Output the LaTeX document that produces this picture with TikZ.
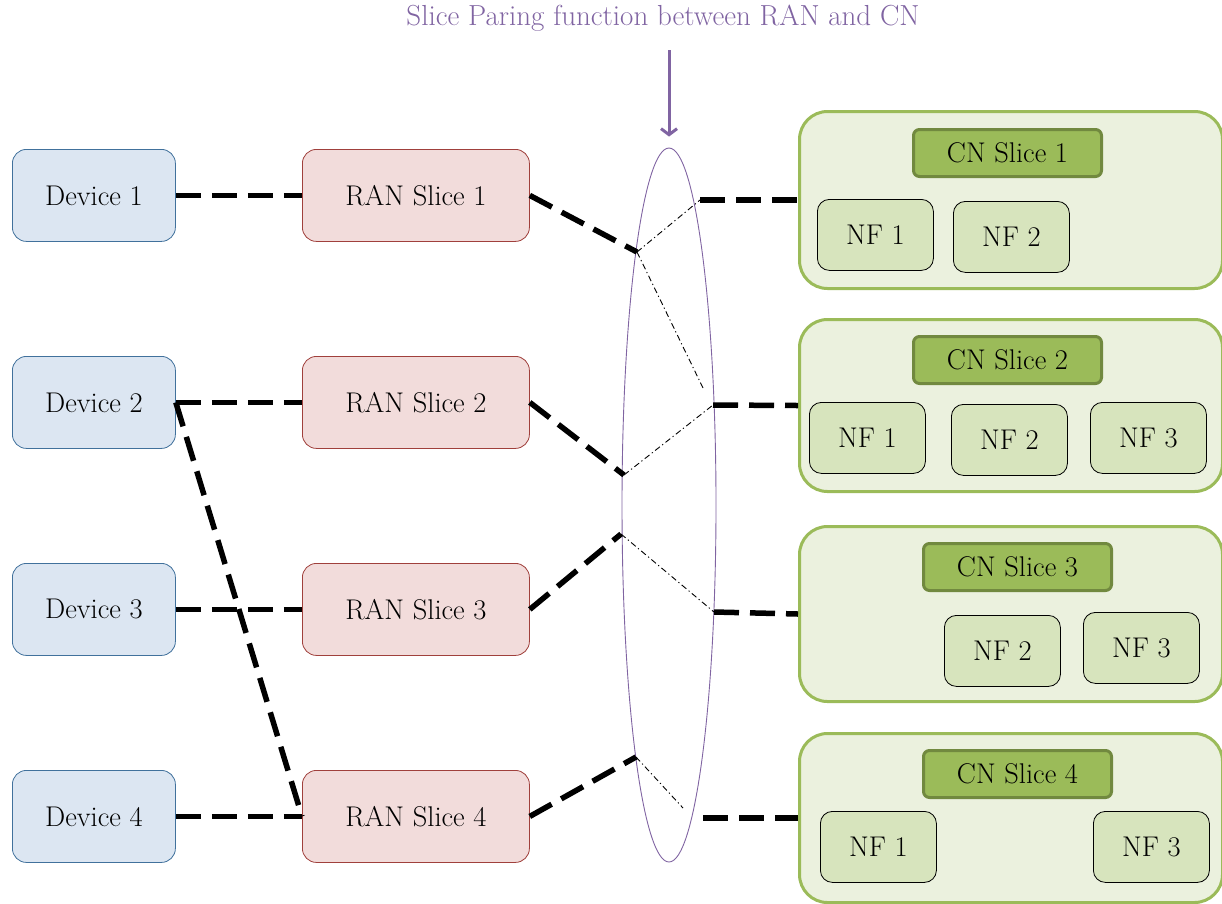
\documentclass[tikz,border=0pt]{standalone}
\usetikzlibrary{arrows.meta,shapes.geometric}
\definecolor{devfill}{HTML}{DCE6F2}
\definecolor{devdraw}{HTML}{41719C}
\definecolor{ranfill}{HTML}{F2DCDB}
\definecolor{randraw}{HTML}{A0403C}
\definecolor{cnfill}{HTML}{EBF1DE}
\definecolor{cndraw}{HTML}{9BBB59}
\definecolor{hdfill}{HTML}{9BBB59}
\definecolor{hddraw}{HTML}{71893F}
\definecolor{nffill}{HTML}{D7E4BD}
\definecolor{purp}{HTML}{8064A2}
\tikzset{
  box/.style={anchor=north west, inner sep=0pt, font=\fontsize{28.5}{32}\selectfont},
  dev/.style={box, rounded corners=14pt, fill=devfill, draw=devdraw, line width=0.8pt, minimum width=163pt, minimum height=92pt},
  ran/.style={box, rounded corners=14pt, fill=ranfill, draw=randraw, line width=0.8pt, minimum width=227pt, minimum height=92pt},
  cnbox/.style={box, rounded corners=28pt, fill=cnfill, draw=cndraw, line width=3pt, minimum width=423pt},
  hdr/.style={box, rounded corners=6pt, fill=hdfill, draw=hddraw, line width=3pt, minimum width=188pt, minimum height=47pt},
  nf/.style={box, rounded corners=12pt, fill=nffill, draw=black, line width=0.8pt, minimum width=116pt, minimum height=71pt},
  thickdash/.style={line width=5.5pt, dash pattern=on 25pt off 11pt},
  dashdot/.style={line width=0.9pt, dash pattern=on 6pt off 3pt on 1.2pt off 3pt},
}
\begin{document}
\begin{tikzpicture}[x=1pt,y=-1pt]
\useasboundingbox (0,0) rectangle (1222,903);
% title and arrow
\node[purp, font=\fontsize{29}{33}\selectfont] (title) at (663,18) {Slice Paring function between RAN and CN};
\node[ellipse, draw=purp, line width=0.9pt, minimum width=94pt, minimum height=714pt, inner sep=0pt] (el) at (669,505) {};
\coordinate (atop) at (669,50);
\draw[purp, line width=3pt, -{Straight Barb[length=6pt,width=16pt]}, shorten >=11pt] (atop) -- (el.north);
% devices
\node[dev] (d1) at (12,149) {Device 1};
\node[dev] (d2) at (12,356) {Device 2};
\node[dev] (d3) at (12,563) {Device 3};
\node[dev] (d4) at (12,770) {Device 4};
% RAN slices
\node[ran] (r1) at (302,149) {RAN Slice 1};
\node[ran] (r2) at (302,356) {RAN Slice 2};
\node[ran] (r3) at (302,563) {RAN Slice 3};
\node[ran] (r4) at (302,770) {RAN Slice 4};
% CN slices
\node[cnbox, minimum height=177pt] (cn1) at (798,110) {};
\node[cnbox, minimum height=172pt] (cn2) at (798,318) {};
\node[cnbox, minimum height=175pt] (cn3) at (798,525) {};
\node[cnbox, minimum height=169pt] (cn4) at (798,732) {};
\node[hdr] (h1) at (912,128) {CN Slice 1};
\node[hdr] (h2) at (912,335) {CN Slice 2};
\node[hdr] (h3) at (922,542) {CN Slice 3};
\node[hdr] (h4) at (922,749) {CN Slice 4};
\node[nf] (n11) at (817,199) {NF 1};
\node[nf] (n12) at (953,201) {NF 2};
\node[nf] (n21) at (809,402) {NF 1};
\node[nf] (n22) at (951,404) {NF 2};
\node[nf] (n23) at (1090,402) {NF 3};
\node[nf] (n32) at (944,615) {NF 2};
\node[nf] (n33) at (1083,612) {NF 3};
\node[nf] (n41) at (820,811) {NF 1};
\node[nf] (n43) at (1093,811) {NF 3};
% junction points
\coordinate (e1) at (637,252);
\coordinate (e2) at (624,475);
\coordinate (e3) at (621,534);
\coordinate (e4) at (636,757);
\coordinate (c1) at (700,200);
\coordinate (c2) at (713,405);
\coordinate (c3) at (714,612);
\coordinate (c4) at (703,818);
\coordinate (q1) at (704,390);
\coordinate (q4) at (683,808);
% device to RAN
\draw[thickdash] (d1.east) -- (r1.west);
\draw[thickdash] (d2.east) -- (r2.west);
\draw[thickdash] (d3.east) -- (r3.west);
\draw[thickdash] (d4.east) -- (r4.west);
\draw[thickdash] (d2.east) -- (r4.west);
% RAN to pairing
\draw[thickdash] (r1.east) -- (e1);
\draw[thickdash] (r2.east) -- (e2);
\draw[thickdash] (r3.east) -- (e3);
\draw[thickdash] (r4.east) -- (e4);
% pairing to CN
\draw[thickdash] (c1) -- (cn1.west);
\draw[thickdash] (c2) -- (cn2.west);
\draw[thickdash] (c3) -- (cn3.west);
\draw[thickdash] (c4) -- (cn4.west);
% pairing function links
\draw[dashdot] (e1) -- (c1);
\draw[dashdot] (e1) -- (q1);
\draw[dashdot] (e2) -- (c2);
\draw[dashdot] (e3) -- (c3);
\draw[dashdot] (e4) -- (q4);
\end{tikzpicture}
\end{document}
